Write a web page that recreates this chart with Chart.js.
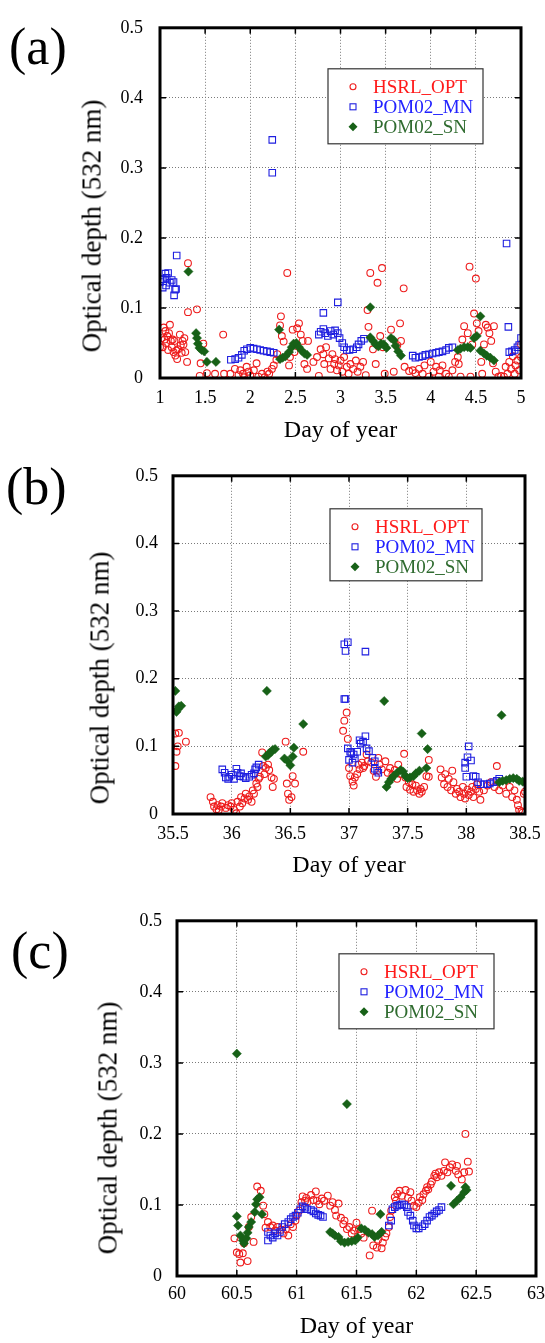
<!DOCTYPE html>
<html>
<head>
<meta charset="utf-8">
<script src="https://cdn.jsdelivr.net/npm/chart.js@4.4.0/dist/chart.umd.min.js"></script>
<style>
  body { margin: 0; background: #fff; width: 545px; height: 1343px; position: relative; overflow: hidden; font-family: "Liberation Serif", serif; }
  .box { position: absolute; left: 0; width: 570px; }
  .tag { position: absolute; font-size: 52px; line-height: 52px; color: #000; }
  .ytitle { position: absolute; font-size: 27px; white-space: nowrap; color: #000; transform: translate(-50%, -50%) rotate(-90deg); }
</style>
</head>
<body>
<div class="box" style="top:0;height:450px"><canvas id="chartA" width="570" height="450"></canvas></div>
<div class="box" style="top:450px;height:440px"><canvas id="chartB" width="570" height="440"></canvas></div>
<div class="box" style="top:895px;height:448px"><canvas id="chartC" width="570" height="448"></canvas></div>

<div class="tag" style="left:9px;top:21px">(a)</div>
<div class="tag" style="left:6px;top:461px">(b)</div>
<div class="tag" style="left:11px;top:925px">(c)</div>
<div class="ytitle" style="left:92px;top:226px">Optical depth (532 nm)</div>
<div class="ytitle" style="left:100px;top:678px">Optical depth (532 nm)</div>
<div class="ytitle" style="left:108px;top:1128px">Optical depth (532 nm)</div>

<script>
// [day of year, optical depth]

// panel (a)
const hsrlA = [[1.00,0.044],[1.02,0.057],[1.03,0.044],[1.04,0.072],[1.05,0.055],[1.06,0.067],[1.07,0.050],[1.08,0.060],[1.09,0.040],[1.10,0.064],
  [1.11,0.076],[1.12,0.053],[1.13,0.044],[1.14,0.055],[1.15,0.037],[1.16,0.053],[1.17,0.032],[1.18,0.039],[1.19,0.027],[1.20,0.041],
  [1.22,0.062],[1.23,0.047],[1.24,0.036],[1.25,0.053],[1.26,0.048],[1.27,0.057],[1.28,0.037],[1.30,0.023],[1.31,0.164],[1.31,0.094],
  [1.41,0.098],[1.44,0.003],[1.45,0.021],[1.48,0.049],[1.52,0.007],[1.61,0.006],[1.70,0.062],[1.71,0.006],[1.78,0.006],[1.83,0.013],
  [1.87,0.004],[1.89,0.011],[1.92,0.006],[1.93,0.001],[1.96,0.016],[1.98,0.009],[2.00,0.004],[2.04,0.011],[2.07,0.021],[2.09,0.002],
  [2.13,0.006],[2.16,0.001],[2.19,0.009],[2.21,0.006],[2.24,0.013],[2.26,0.018],[2.29,0.026],[2.30,0.034],[2.33,0.075],[2.34,0.088],
  [2.35,0.060],[2.37,0.052],[2.41,0.150],[2.43,0.018],[2.44,0.030],[2.47,0.069],[2.49,0.037],[2.52,0.071],[2.54,0.078],[2.56,0.062],
  [2.58,0.053],[2.60,0.020],[2.63,0.013],[2.64,0.053],[2.70,0.023],[2.74,0.030],[2.76,0.003],[2.78,0.041],[2.81,0.034],[2.82,0.020],
  [2.84,0.044],[2.87,0.028],[2.89,0.013],[2.91,0.034],[2.93,0.020],[2.94,0.027],[2.96,0.011],[2.98,0.018],[3.00,0.025],[3.02,0.009],
  [3.04,0.030],[3.07,0.016],[3.09,0.006],[3.11,0.020],[3.14,0.013],[3.17,0.025],[3.19,0.009],[3.22,0.016],[3.25,0.023],[3.28,0.004],
  [3.30,0.097],[3.31,0.073],[3.33,0.150],[3.36,0.041],[3.39,0.020],[3.41,0.136],[3.44,0.060],[3.46,0.157],[3.47,0.044],[3.49,0.006],
  [3.56,0.069],[3.59,0.009],[3.63,0.047],[3.66,0.078],[3.67,0.053],[3.70,0.128],[3.71,0.016],[3.76,0.010],[3.80,0.011],[3.83,0.007],
  [3.87,0.013],[3.91,0.006],[3.93,0.018],[3.98,0.002],[4.00,0.023],[4.03,0.009],[4.06,0.016],[4.09,0.002],[4.10,0.011],[4.13,0.018],
  [4.17,0.006],[4.20,0.002],[4.24,0.011],[4.27,0.023],[4.30,0.030],[4.31,0.020],[4.33,0.002],[4.35,0.055],[4.37,0.074],[4.41,0.064],
  [4.43,0.159],[4.44,0.002],[4.46,0.048],[4.48,0.092],[4.50,0.142],[4.51,0.078],[4.53,0.067],[4.56,0.023],[4.57,0.006],[4.59,0.048],
  [4.61,0.076],[4.63,0.072],[4.65,0.064],[4.67,0.053],[4.69,0.021],[4.70,0.074],[4.72,0.009],[4.75,0.002],[4.78,0.003],[4.81,0.002],
  [4.83,0.016],[4.85,0.006],[4.87,0.023],[4.89,0.013],[4.91,0.031],[4.93,0.006],[4.94,0.018],[4.96,0.025],[4.98,0.011],[5.00,0.030],[5.00,0.048]];
const mnA = [[1.00,0.137],[1.02,0.141],[1.03,0.129],[1.04,0.141],[1.06,0.149],[1.067,0.132],[1.074,0.143],[1.09,0.150],[1.11,0.136],[1.13,0.140],
  [1.15,0.137],[1.156,0.118],[1.167,0.126],[1.178,0.127],[1.185,0.175],
  [1.785,0.026],[1.833,0.027],[1.87,0.029],[1.907,0.033],[1.933,0.039],[1.963,0.041],[2.00,0.043],[2.037,0.042],[2.074,0.041],[2.11,0.040],
  [2.148,0.039],[2.185,0.038],[2.222,0.037],[2.26,0.036],[2.244,0.340],[2.244,0.293],
  [2.76,0.062],[2.78,0.066],[2.81,0.070],[2.83,0.064],[2.86,0.060],[2.89,0.067],[2.92,0.062],[2.94,0.068],[2.97,0.064],[2.99,0.057],
  [2.81,0.093],[2.97,0.108],
  [3.02,0.050],[3.04,0.044],[3.07,0.040],[3.10,0.040],[3.14,0.041],[3.18,0.044],[3.20,0.048],[3.23,0.053],[3.26,0.056],
  [3.80,0.032],[3.83,0.029],[3.87,0.030],[3.91,0.031],[3.94,0.033],[3.98,0.034],[4.02,0.035],[4.06,0.036],[4.09,0.037],[4.13,0.038],
  [4.17,0.040],[4.20,0.043],[4.24,0.044],
  [4.84,0.192],[4.86,0.073],[4.87,0.037],[4.90,0.038],[4.93,0.040],[4.96,0.044],[4.98,0.047],[5.00,0.057]];
const snA = [[1.315,0.152],[1.40,0.064],[1.41,0.057],[1.42,0.049],[1.437,0.043],[1.46,0.040],[1.49,0.038],[1.52,0.023],[1.62,0.023],
  [2.32,0.069],[2.33,0.027],[2.36,0.029],[2.39,0.031],[2.43,0.037],[2.46,0.044],[2.48,0.049],[2.51,0.050],[2.54,0.044],[2.57,0.039],
  [2.60,0.035],[2.63,0.033],
  [3.33,0.101],[3.33,0.058],[3.36,0.053],[3.39,0.048],[3.42,0.045],[3.45,0.049],[3.48,0.048],[3.51,0.043],[3.56,0.057],[3.59,0.054],
  [3.61,0.046],[3.64,0.038],[3.67,0.032],
  [4.30,0.040],[4.33,0.042],[4.37,0.044],[4.41,0.044],[4.44,0.043],[4.48,0.057],[4.51,0.060],[4.55,0.088],[4.55,0.039],[4.59,0.035],
  [4.62,0.032],[4.66,0.029],[4.70,0.025]];

// panel (b)
const hsrlB = [[35.52,0.071],[35.53,0.092],[35.54,0.100],[35.52,0.119],[35.55,0.120],[35.61,0.107],
  [35.82,0.025],[35.84,0.018],[35.85,0.011],[35.87,0.007],[35.88,0.013],[35.89,0.006],[35.91,0.011],[35.92,0.016],[35.95,0.009],[35.97,0.013],
  [35.99,0.011],[36.00,0.016],[36.02,0.006],[36.04,0.001],[36.05,0.018],[36.07,0.011],[36.08,0.025],[36.09,0.016],[36.11,0.023],[36.12,0.030],
  [36.14,0.021],[36.15,0.026],[36.17,0.018],[36.18,0.035],[36.19,0.030],[36.21,0.045],[36.22,0.040],[36.23,0.052],[36.24,0.055],[36.26,0.091],
  [36.27,0.071],[36.28,0.059],[36.29,0.068],[36.31,0.073],[36.32,0.065],[36.34,0.054],[36.35,0.040],[36.36,0.052],[36.46,0.107],[36.47,0.045],
  [36.48,0.030],[36.49,0.021],[36.51,0.025],[36.52,0.056],[36.54,0.045],[36.61,0.092],
  [36.95,0.123],[36.96,0.138],[36.98,0.150],[36.99,0.111],[37.00,0.068],[37.01,0.056],[37.03,0.048],[37.04,0.042],[37.05,0.054],[37.07,0.059],
  [37.08,0.073],[37.09,0.066],[37.11,0.076],[37.12,0.068],[37.13,0.071],[37.15,0.088],[37.16,0.078],[37.19,0.076],[37.21,0.064],[37.23,0.055],
  [37.25,0.083],[37.26,0.073],[37.28,0.066],[37.31,0.078],[37.33,0.061],[37.35,0.068],[37.37,0.058],[37.39,0.065],[37.41,0.052],[37.42,0.073],
  [37.44,0.059],[37.47,0.089],[37.48,0.054],[37.49,0.040],[37.51,0.047],[37.52,0.036],[37.54,0.044],[37.55,0.033],[37.57,0.042],[37.58,0.035],
  [37.60,0.030],[37.61,0.037],[37.62,0.033],[37.64,0.040],[37.66,0.056],[37.68,0.080],[37.68,0.055],
  [37.78,0.066],[37.79,0.054],[37.81,0.044],[37.82,0.059],[37.84,0.040],[37.85,0.052],[37.87,0.035],[37.88,0.064],[37.89,0.047],[37.91,0.030],
  [37.92,0.037],[37.94,0.033],[37.95,0.025],[37.97,0.040],[37.98,0.030],[37.99,0.023],[38.01,0.036],[38.02,0.028],[38.04,0.033],[38.05,0.040],
  [38.06,0.025],[38.08,0.037],[38.09,0.044],[38.11,0.033],[38.12,0.021],[38.15,0.035],[38.18,0.042],[38.21,0.047],[38.24,0.040],[38.26,0.071],
  [38.28,0.035],[38.31,0.042],[38.34,0.030],[38.37,0.040],[38.39,0.025],[38.41,0.035],[38.43,0.021],[38.44,0.013],[38.45,0.006],[38.47,0.004],
  [38.48,0.002],[38.49,0.030],[38.50,0.033]];
const mnB = [[35.92,0.066],[35.94,0.061],[35.95,0.054],[35.97,0.052],[35.98,0.055],[36.00,0.058],[36.02,0.052],[36.04,0.067],[36.05,0.061],[36.07,0.056],
  [36.08,0.060],[36.10,0.055],[36.12,0.053],[36.15,0.055],[36.17,0.058],[36.19,0.060],[36.20,0.066],[36.21,0.069],[36.23,0.073],
  [36.96,0.251],[36.99,0.254],[36.97,0.241],[37.14,0.240],[36.96,0.170],[36.97,0.170],[36.99,0.097],[37.01,0.092],[37.02,0.090],[37.04,0.088],
  [37.05,0.082],[37.07,0.092],[37.09,0.109],[37.10,0.104],[37.12,0.107],[37.14,0.115],[37.15,0.097],[37.17,0.093],[37.20,0.083],[37.22,0.078],
  [37.22,0.067],[37.24,0.064],[37.25,0.061],[37.00,0.080],[37.03,0.076],
  [37.99,0.076],[37.99,0.068],[38.00,0.055],[38.01,0.084],[38.02,0.100],[38.04,0.079],[38.06,0.056],[38.08,0.055],[38.10,0.047],[38.12,0.044],
  [38.15,0.044],[38.18,0.044],[38.20,0.045],[38.23,0.047],[38.26,0.049],[38.28,0.052]];
const snB = [[35.52,0.182],[35.53,0.151],[35.54,0.155],[35.55,0.159],[35.57,0.160],[36.30,0.182],[36.29,0.085],[36.31,0.087],[36.32,0.090],[36.34,0.092],
  [36.35,0.095],[36.37,0.096],[36.45,0.082],[36.48,0.078],[36.50,0.072],[36.52,0.085],[36.53,0.098],[36.61,0.133],
  [37.30,0.167],[37.32,0.040],[37.34,0.047],[37.36,0.052],[37.38,0.056],[37.41,0.061],[37.44,0.065],[37.46,0.063],[37.48,0.056],[37.50,0.053],
  [37.52,0.054],[37.55,0.056],[37.57,0.060],[37.60,0.064],[37.62,0.119],[37.66,0.068],[37.67,0.096],
  [38.30,0.146],[38.28,0.047],[38.31,0.049],[38.34,0.050],[38.37,0.052],[38.40,0.053],[38.43,0.052],[38.45,0.049],[38.48,0.048],[38.50,0.047]];

// panel (c)
const hsrlC = [[60.48,0.053],[60.50,0.033],[60.52,0.031],[60.53,0.019],[60.55,0.032],[60.56,0.046],[60.59,0.021],[60.60,0.069],[60.62,0.083],[60.64,0.048],
  [60.67,0.126],[60.70,0.120],[60.72,0.099],[60.73,0.087],[60.74,0.068],[60.76,0.076],[60.78,0.069],[60.80,0.071],[60.82,0.064],[60.84,0.069],
  [60.87,0.065],[60.89,0.060],[60.91,0.066],[60.93,0.057],[60.95,0.073],[60.97,0.069],[60.99,0.078],[61.00,0.085],[61.02,0.092],[61.04,0.104],
  [61.05,0.112],[61.07,0.106],[61.08,0.110],[61.09,0.104],[61.12,0.114],[61.14,0.107],[61.16,0.119],[61.17,0.106],[61.19,0.101],[61.21,0.109],
  [61.23,0.106],[61.26,0.113],[61.28,0.099],[61.30,0.104],[61.32,0.093],[61.33,0.085],[61.35,0.102],[61.37,0.082],[61.39,0.073],[61.40,0.078],
  [61.42,0.066],[61.44,0.069],[61.46,0.060],[61.48,0.064],[61.50,0.075],[61.52,0.066],[61.54,0.060],[61.56,0.054],[61.61,0.029],[61.63,0.092],
  [61.64,0.043],[61.67,0.040],[61.68,0.051],[61.71,0.039],[61.72,0.047],[61.74,0.055],[61.75,0.060],[61.77,0.069],[61.78,0.083],[61.79,0.092],
  [61.82,0.111],[61.83,0.106],[61.84,0.116],[61.86,0.120],[61.88,0.113],[61.91,0.121],[61.93,0.110],[61.95,0.118],[61.96,0.106],[61.98,0.099],
  [62.00,0.097],[62.02,0.103],[62.03,0.111],[62.05,0.107],[62.06,0.115],[62.08,0.120],[62.09,0.125],[62.10,0.122],[62.12,0.129],[62.13,0.133],
  [62.15,0.141],[62.16,0.144],[62.17,0.139],[62.19,0.146],[62.21,0.141],[62.23,0.148],[62.24,0.160],[62.26,0.146],[62.28,0.153],[62.30,0.157],
  [62.33,0.148],[62.34,0.155],[62.35,0.143],[62.38,0.136],[62.40,0.146],[62.41,0.200],[62.43,0.161],[62.44,0.147]];
const mnC = [[60.76,0.050],[60.76,0.062],[60.78,0.057],[60.80,0.054],[60.82,0.060],[60.84,0.057],[60.86,0.062],[60.88,0.069],[60.90,0.073],[60.93,0.076],
  [60.95,0.080],[60.97,0.083],[60.99,0.085],[61.01,0.089],[61.03,0.094],[61.05,0.098],[61.07,0.096],[61.09,0.094],[61.12,0.093],[61.14,0.091],
  [61.16,0.088],[61.18,0.086],[61.20,0.085],[61.22,0.083],
  [61.77,0.071],[61.79,0.078],[61.80,0.094],[61.82,0.097],[61.84,0.099],[61.86,0.100],[61.88,0.101],[61.90,0.100],[61.92,0.097],[61.93,0.090],
  [61.95,0.085],[61.97,0.078],[61.98,0.071],[62.00,0.067],[62.02,0.067],[62.05,0.070],[62.07,0.073],[62.09,0.078],[62.11,0.083],[62.13,0.085],
  [62.15,0.088],[62.17,0.091],[62.19,0.093],[62.21,0.097]];
const snC = [[60.50,0.313],[61.42,0.242],[60.50,0.084],[60.51,0.071],[60.53,0.057],[60.55,0.050],[60.56,0.046],[60.58,0.053],[60.59,0.061],[60.60,0.069],
  [60.62,0.076],[60.65,0.090],[60.66,0.101],[60.67,0.108],[60.69,0.111],[60.71,0.087],
  [61.28,0.062],[61.30,0.060],[61.32,0.057],[61.35,0.055],[61.37,0.049],[61.40,0.047],[61.43,0.048],[61.46,0.049],[61.49,0.050],[61.51,0.054],
  [61.54,0.067],[61.57,0.065],[61.60,0.061],[61.63,0.059],[61.65,0.055],[61.68,0.057],[61.70,0.087],[61.71,0.062],
  [62.29,0.127],[62.31,0.101],[62.34,0.106],[62.37,0.111],[62.40,0.118],[62.41,0.125],[62.42,0.121]];

const yTicks = [0, 0.1, 0.2, 0.3, 0.4, 0.5];
const seriesNames = ['HSRL_OPT', 'POM02_MN', 'POM02_SN'];

const FONT = '"Liberation Serif", "Times New Roman", serif';
const RED = '#ee1c1c', BLUE = '#1f1fe0', GREEN = '#176117';
const TEXT_COLORS = ['#ff1a1a', '#2222ff', '#2f6b2f'];

const toPts = arr => arr.map(([x, y]) => ({ x, y }));

function buildDatasets(red, blue, green) {
    return [
        { label: seriesNames[0], data: toPts(red), pointStyle: 'circle', pointRadius: 3.4,
          pointBorderColor: RED, pointBackgroundColor: 'rgba(0,0,0,0)', pointBorderWidth: 1.1, order: 3 },
        { label: seriesNames[1], data: toPts(blue), pointStyle: 'rect', pointRadius: 4.6,
          pointBorderColor: BLUE, pointBackgroundColor: 'rgba(0,0,0,0)', pointBorderWidth: 1.1, order: 2 },
        { label: seriesNames[2], data: toPts(green), pointStyle: 'rectRot', pointRadius: 4.6,
          pointBorderColor: GREEN, pointBackgroundColor: GREEN, pointBorderWidth: 0.5, order: 1 }
    ];
}

// thick frame, inward tick marks and the boxed legend inside the plot
const framePlugin = {
    id: 'frame',
    afterDraw(chart, args, o) {
        const { ctx, chartArea: a, scales: { x, y } } = chart;
        ctx.save();
        ctx.strokeStyle = '#000';
        ctx.lineWidth = 1.5;
        ctx.beginPath();
        x.ticks.forEach(t => {
            const px = x.getPixelForValue(t.value);
            ctx.moveTo(px, a.bottom); ctx.lineTo(px, a.bottom - 6);
            ctx.moveTo(px, a.top); ctx.lineTo(px, a.top + 6);
        });
        y.ticks.forEach(t => {
            const py = y.getPixelForValue(t.value);
            ctx.moveTo(a.left, py); ctx.lineTo(a.left + 6, py);
            ctx.moveTo(a.right, py); ctx.lineTo(a.right - 6, py);
        });
        ctx.stroke();
        ctx.lineWidth = 3;
        ctx.strokeRect(a.left, a.top, a.right - a.left, a.bottom - a.top);

        // legend
        const bx = a.right - o.right - o.w, by = a.top + o.top;
        ctx.fillStyle = '#fff';
        ctx.fillRect(bx, by, o.w, o.h);
        ctx.lineWidth = 1.2;
        ctx.strokeStyle = '#333';
        ctx.strokeRect(bx, by, o.w, o.h);
        ctx.font = '19px ' + FONT;
        ctx.textBaseline = 'middle';
        chart.data.datasets.forEach((ds, i) => {
            const cy = by + 18 + i * 20, mx = bx + 25;
            ctx.lineWidth = 1.1;
            if (i === 0) {
                ctx.strokeStyle = RED;
                ctx.beginPath(); ctx.arc(mx, cy, 3, 0, Math.PI * 2); ctx.stroke();
            } else if (i === 1) {
                ctx.strokeStyle = BLUE;
                ctx.strokeRect(mx - 3, cy - 3, 6, 6);
            } else {
                ctx.fillStyle = GREEN;
                ctx.beginPath();
                ctx.moveTo(mx, cy - 4.5); ctx.lineTo(mx + 4.5, cy); ctx.lineTo(mx, cy + 4.5); ctx.lineTo(mx - 4.5, cy);
                ctx.closePath(); ctx.fill();
            }
            ctx.fillStyle = TEXT_COLORS[i];
            ctx.fillText(ds.label, bx + 45, cy + 1);
        });
        ctx.restore();
    }
};

function makePanel(id, cfg) {
    new Chart(document.getElementById(id), {
        type: 'scatter',
        data: { datasets: buildDatasets(cfg.red, cfg.blue, cfg.green) },
        options: {
            responsive: false,
            animation: false,
            devicePixelRatio: 1,
            layout: { padding: { left: 0, top: cfg.top, right: cfg.right, bottom: 0 } },
            plugins: {
                legend: { display: false },
                tooltip: { enabled: false },
                frame: cfg.legend
            },
            scales: {
                x: {
                    type: 'linear',
                    min: cfg.xMin, max: cfg.xMax,
                    afterBuildTicks: s => { s.ticks = cfg.xTicks.map(v => ({ value: v })); },
                    ticks: {
                        padding: cfg.xTickPad,
                        color: '#000',
                        font: { family: FONT, size: 18 },
                        maxRotation: 0,
                        callback: v => String(+v.toFixed(1))
                    },
                    grid: { color: '#7a7a7a', lineWidth: 1, drawTicks: false },
                    border: { display: false, dash: [1, 2] },
                    title: {
                        display: true, text: 'Day of year', color: '#000',
                        font: { family: FONT, size: 24 },
                        padding: { top: 0, bottom: cfg.titlePad }
                    },
                    afterFit: s => { s.height = cfg.xHeight; }
                },
                y: {
                    min: 0, max: 0.5,
                    afterBuildTicks: s => { s.ticks = yTicks.map(v => ({ value: v })); },
                    ticks: {
                        padding: cfg.yTickPad,
                        color: '#000',
                        font: { family: FONT, size: 18 },
                        callback: v => v === 0 ? '0' : v.toFixed(1)
                    },
                    grid: { color: '#7a7a7a', lineWidth: 1, drawTicks: false },
                    border: { display: false, dash: [1, 2] },
                    afterFit: s => { s.width = cfg.yWidth; }
                }
            }
        },
        plugins: [framePlugin]
    });
}

// canvases are 570 wide so the last tick label can spill past the page edge
makePanel('chartA', {
    red: hsrlA, blue: mnA, green: snA,
    xMin: 1, xMax: 5, xTicks: [1, 1.5, 2, 2.5, 3, 3.5, 4, 4.5, 5],
    top: 15, right: 49, yWidth: 160, xHeight: 72,
    xTickPad: 9, yTickPad: 17, titlePad: 5,
    legend: { right: 38, top: 41, w: 155, h: 75 }
});
makePanel('chartB', {
    red: hsrlB, blue: mnB, green: snB,
    xMin: 35.5, xMax: 38.5, xTicks: [35.5, 36, 36.5, 37, 37.5, 38, 38.5],
    top: 14, right: 45, yWidth: 173, xHeight: 76,
    xTickPad: 9, yTickPad: 15, titlePad: 10,
    legend: { right: 43, top: 33, w: 152, h: 72 }
});
makePanel('chartC', {
    red: hsrlC, blue: mnC, green: snC,
    xMin: 60, xMax: 63, xTicks: [60, 60.5, 61, 61.5, 62, 62.5, 63],
    top: 24, right: 34, yWidth: 177, xHeight: 67,
    xTickPad: 7, yTickPad: 15, titlePad: 2,
    legend: { right: 42, top: 33, w: 155, h: 75 }
});
</script>
</body>
</html>
